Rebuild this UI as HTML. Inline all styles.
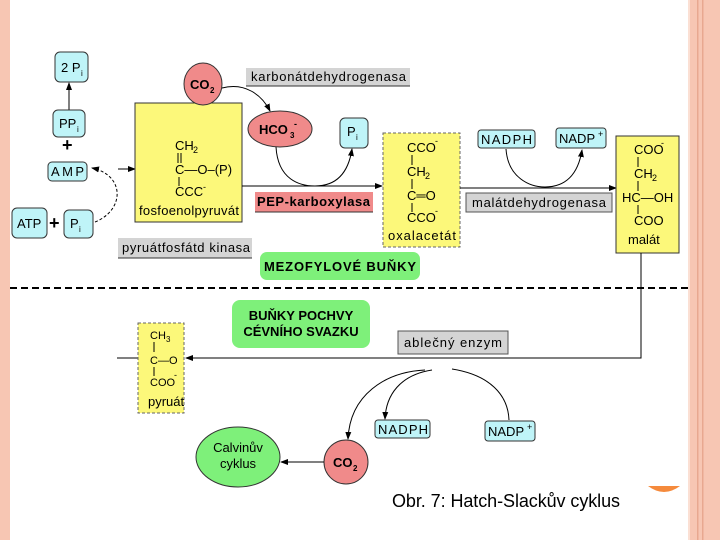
<!DOCTYPE html>
<html><head><meta charset="utf-8"><style>
html,body{margin:0;padding:0;background:#fff;}
svg{display:block;font-family:"Liberation Sans",sans-serif;}
</style></head><body>
<svg width="720" height="540" viewBox="0 0 720 540" xmlns="http://www.w3.org/2000/svg">
<defs>
<marker id="a" markerWidth="8" markerHeight="8" refX="7" refY="4" orient="auto" markerUnits="userSpaceOnUse"><path d="M0,1 L8,4 L0,7 z" fill="#000"/></marker>
</defs>
<rect x="0" y="0" width="10" height="540" fill="#f7c6b3"/>
<rect x="688" y="0" width="32" height="540" fill="#f7c6b3"/>
<rect x="688" y="0" width="2" height="540" fill="#fbe0d4"/>
<rect x="697" y="0" width="1.5" height="540" fill="#e8a890"/>
<rect x="702" y="0" width="1.5" height="540" fill="#e8a890"/>
<path d="M648,486 Q664,498 680,486 z" fill="#f58a3c"/>

<g font-size="13" fill="#000">
<rect x="55" y="52" width="33" height="30" rx="5" fill="#bff4f8" stroke="#333"/>
<text x="61" y="72">2 P</text><text x="81" y="76" font-size="8">i</text>
<line x1="69" y1="110" x2="69" y2="83" stroke="#000" marker-end="url(#a)"/>
<rect x="53" y="110" width="32" height="27" rx="5" fill="#bff4f8" stroke="#333"/>
<text x="59" y="128">PP</text><text x="77" y="132" font-size="8">i</text>
<text x="62" y="151" font-size="18" font-weight="bold">+</text>
<rect x="48" y="162" width="39" height="19" rx="4" fill="#bff4f8" stroke="#333"/>
<text x="51" y="176" textLength="33">AMP</text>
<rect x="12" y="208" width="35" height="30" rx="5" fill="#bff4f8" stroke="#333"/>
<text x="17" y="228">ATP</text>
<text x="49" y="229" font-size="18" font-weight="bold">+</text>
<rect x="64" y="210" width="29" height="28" rx="5" fill="#bff4f8" stroke="#333"/>
<text x="70" y="228">P</text><text x="79" y="232" font-size="8">i</text>
<path d="M95,222 C125,210 125,175 92,168" fill="none" stroke="#000" stroke-dasharray="3,2" marker-end="url(#a)"/>
<line x1="118" y1="169" x2="135" y2="169" stroke="#000" marker-end="url(#a)"/>

<rect x="135" y="103" width="107" height="119" fill="#fcf87a" stroke="#333"/>
<text x="175" y="150">CH</text><text x="193" y="153" font-size="9">2</text>
<line x1="178" y1="153" x2="178" y2="163" stroke="#000"/><line x1="181" y1="153" x2="181" y2="163" stroke="#000"/>
<text x="175" y="174">C—O–(P)</text>
<line x1="179" y1="177" x2="179" y2="186" stroke="#000"/>
<text x="175" y="196">CCC</text><text x="203" y="190" font-size="9">-</text>
<text x="139" y="215" textLength="100">fosfoenolpyruvát</text>
<rect x="118" y="238" width="134" height="20" fill="#d4d4d4"/>
<line x1="118" y1="258" x2="252" y2="258" stroke="#333"/>
<text x="122" y="252" textLength="128">pyruátfosfátd kinasa</text>

<ellipse cx="203" cy="84" rx="19" ry="21" fill="#f08a8a" stroke="#333"/>
<text x="190" y="89" font-weight="bold">CO</text><text x="210" y="93" font-size="8" font-weight="bold">2</text>
<rect x="246" y="68" width="164" height="18" fill="#d4d4d4"/>
<line x1="246" y1="86" x2="410" y2="86" stroke="#333"/>
<text x="251" y="81" textLength="155">karbonátdehydrogenasa</text>
<path d="M222,88 C245,82 262,95 270,111" fill="none" stroke="#000" marker-end="url(#a)"/>
<ellipse cx="280" cy="129" rx="32" ry="18" fill="#f08a8a" stroke="#333"/>
<text x="259" y="134" font-weight="bold">HCO</text><text x="290" y="138" font-size="8" font-weight="bold">3</text><text x="294" y="127" font-size="9" font-weight="bold">-</text>
<rect x="340" y="118" width="28" height="30" rx="5" fill="#bff4f8" stroke="#333"/>
<text x="347" y="136">P</text><text x="356" y="140" font-size="8">i</text>
<path d="M276,147 C278,180 300,186 315,186 C335,186 348,175 352,149" fill="none" stroke="#000" marker-end="url(#a)"/>
<line x1="242" y1="186" x2="382" y2="186" stroke="#000" marker-end="url(#a)"/>
<rect x="255" y="192" width="118" height="20" fill="#f08a8a"/>
<line x1="255" y1="212" x2="373" y2="212" stroke="#333"/>
<text x="257" y="206" font-weight="bold" textLength="113">PEP-karboxylasa</text>
<rect x="260" y="252" width="160" height="28" rx="7" fill="#7ef07a"/>
<text x="264" y="271" font-weight="bold" textLength="152">MEZOFYLOVÉ BUŇKY</text>

<rect x="383" y="133" width="77" height="114" fill="#fcf87a" stroke="#666" stroke-dasharray="3,2"/>
<text x="407" y="152">CCO</text><text x="435" y="144" font-size="9">-</text>
<line x1="412" y1="155" x2="412" y2="165" stroke="#000"/>
<text x="407" y="176">CH</text><text x="425" y="179" font-size="9">2</text>
<line x1="412" y1="179" x2="412" y2="189" stroke="#000"/>
<text x="407" y="200">C═O</text>
<line x1="412" y1="203" x2="412" y2="212" stroke="#000"/>
<text x="407" y="222">CCO</text><text x="435" y="214" font-size="9">-</text>
<text x="388" y="240" textLength="68">oxalacetát</text>

<rect x="478" y="130" width="57" height="18" rx="3" fill="#bff4f8" stroke="#333"/>
<text x="481" y="144" textLength="51">NADPH</text>
<rect x="556" y="128" width="50" height="20" rx="3" fill="#bff4f8" stroke="#333"/>
<text x="559" y="143">NADP</text><text x="598" y="137" font-size="9">+</text>
<path d="M506,149 C508,178 530,187 545,187 C565,187 578,175 582,150" fill="none" stroke="#000" marker-end="url(#a)"/>
<line x1="460" y1="188" x2="616" y2="188" stroke="#000" marker-end="url(#a)"/>
<rect x="466" y="193" width="146" height="19" fill="#d4d4d4" stroke="#555"/>
<text x="472" y="207" textLength="134">malátdehydrogenasa</text>

<rect x="616" y="136" width="63" height="117" fill="#fcf87a" stroke="#333"/>
<text x="634" y="154">COO</text><text x="661" y="146" font-size="9">-</text>
<line x1="638" y1="157" x2="638" y2="167" stroke="#000"/>
<text x="634" y="178">CH</text><text x="652" y="181" font-size="9">2</text>
<line x1="638" y1="181" x2="638" y2="191" stroke="#000"/>
<text x="622" y="202">HC—OH</text>
<line x1="638" y1="205" x2="638" y2="214" stroke="#000"/>
<text x="634" y="225">COO</text>
<text x="628" y="244">malát</text>

<line x1="10" y1="288" x2="688" y2="288" stroke="#000" stroke-width="2" stroke-dasharray="7,4"/>

<polyline points="641,253 641,358 186,358" fill="none" stroke="#000" marker-end="url(#a)"/>
<line x1="138" y1="358" x2="117" y2="358" stroke="#000"/>
<rect x="138" y="323" width="46" height="90" fill="#fcf87a" stroke="#666" stroke-dasharray="3,2"/>
<text x="150" y="339" font-size="11">CH</text><text x="166" y="342" font-size="8">3</text>
<line x1="154" y1="342" x2="154" y2="352" stroke="#000"/>
<text x="150" y="364" font-size="11">C—O</text>
<line x1="154" y1="367" x2="154" y2="376" stroke="#000"/>
<text x="150" y="386" font-size="11">COO</text><text x="174" y="378" font-size="9">-</text>
<text x="148" y="406">pyruát</text>
<rect x="232" y="300" width="138" height="48" rx="8" fill="#7ef07a"/>
<text x="301" y="320" font-weight="bold" text-anchor="middle">BUŇKY POCHVY</text>
<text x="301" y="336" font-weight="bold" text-anchor="middle">CÉVNÍHO SVAZKU</text>
<rect x="398" y="331" width="110" height="23" fill="#d4d4d4" stroke="#555"/>
<text x="404" y="347" textLength="98">ablečný enzym</text>
<path d="M425,370 C385,372 350,395 348,439" fill="none" stroke="#000" marker-end="url(#a)"/>
<path d="M432,370 C400,375 386,395 385,419" fill="none" stroke="#000" marker-end="url(#a)"/>
<path d="M452,369 C490,375 508,395 509,420" fill="none" stroke="#000"/>
<rect x="375" y="420" width="55" height="18" rx="3" fill="#bff4f8" stroke="#333"/>
<text x="378" y="434" textLength="50">NADPH</text>
<rect x="485" y="421" width="50" height="20" rx="3" fill="#bff4f8" stroke="#333"/>
<text x="488" y="436">NADP</text><text x="527" y="430" font-size="9">+</text>
<circle cx="346" cy="462" r="22" fill="#f08a8a" stroke="#333"/>
<text x="333" y="467" font-weight="bold">CO</text><text x="353" y="471" font-size="8" font-weight="bold">2</text>
<line x1="324" y1="462" x2="281" y2="462" stroke="#000" marker-end="url(#a)"/>
<ellipse cx="238" cy="457" rx="42" ry="30" fill="#7ef07a" stroke="#333"/>
<text x="238" y="452" text-anchor="middle">Calvinův</text>
<text x="238" y="468" text-anchor="middle">cyklus</text>
</g>
<text x="392" y="507" font-size="18" textLength="228">Obr. 7: Hatch-Slackův cyklus</text>
</svg>
</body></html>
